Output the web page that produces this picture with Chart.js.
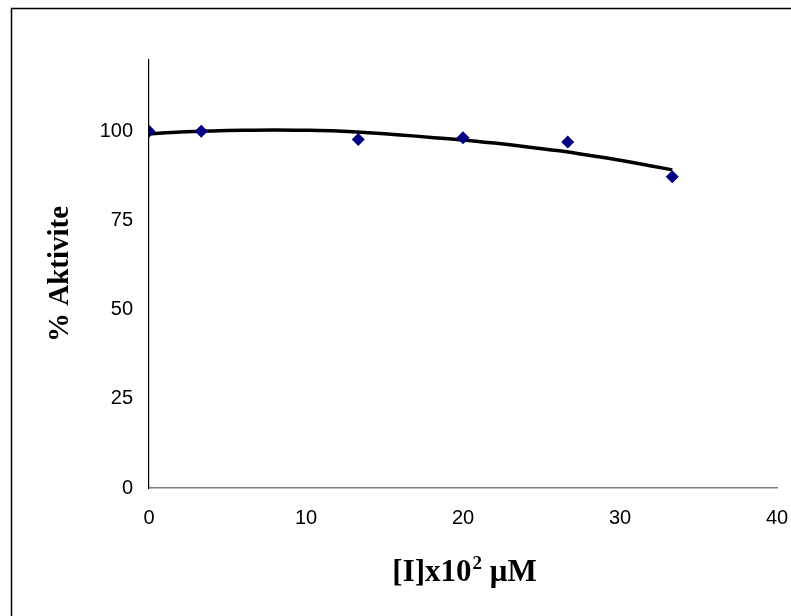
<!DOCTYPE html>
<html>
<head>
<meta charset="utf-8">
<script src="https://cdn.jsdelivr.net/npm/chart.js@4.4.1/dist/chart.umd.min.js"></script>
<style>
  body { margin: 0; background: #fff; }
  #wrap { width: 791px; height: 616px; }
</style>
</head>
<body>
<div id="wrap"><canvas id="myChart" width="791" height="616"></canvas></div>
<script>
// measured points
var concX = [0, 3.33, 13.33, 20, 26.67, 33.33];
var activity = [100, 100, 97.7, 98.2, 97.0, 87.3];

// trend curve
var trendX = [0, 2, 4, 6, 8, 10, 12, 14, 16, 18, 20, 22, 24, 26, 28, 30, 32, 33.33];
var trendY = [99.3, 99.8, 100.1, 100.3, 100.4, 100.3, 100.1, 99.6, 99.0, 98.3, 97.6, 96.7, 95.7, 94.6, 93.3, 91.9, 90.3, 89.2];

var yTicks = [0, 25, 50, 75, 100];

var pts = concX.map(function(x, i){ return {x: x, y: activity[i]}; });
var trend = trendX.map(function(x, i){ return {x: x, y: trendY[i]}; });

var frame = {
    id: 'frame',
    beforeDraw: function(chart){
        var c = chart.ctx;
        c.save();
        c.fillStyle = '#fff';
        c.fillRect(0, 0, chart.width, chart.height);
        c.strokeStyle = '#000';
        c.lineWidth = 1.5;
        c.strokeRect(11.5, 8.5, 800, 650);
        c.restore();
    },
    // x title with a real superscript 2
    afterDraw: function(chart){
        var c = chart.ctx, a = chart.chartArea;
        var big = 'bold 31px "Liberation Serif"', small = 'bold 19px "Liberation Serif"';
        var p1 = '[I]x10', p2 = '2', p3 = ' \u03BCM';
        c.save();
        c.fillStyle = '#000';
        c.textBaseline = 'alphabetic';
        c.font = big;
        var w1 = c.measureText(p1).width, w3 = c.measureText(p3).width;
        c.font = small;
        var w2 = c.measureText(p2).width;
        var x = (a.left + a.right) / 2 + 1 - (w1 + w2 + w3) / 2;
        var y = 581;
        c.font = big;
        c.fillText(p1, x, y);
        c.font = small;
        c.fillText(p2, x + w1 + 1, y - 12);
        c.font = big;
        c.fillText(p3, x + w1 + w2 + 1, y);
        c.restore();
    }
};

var ctx = document.getElementById("myChart").getContext("2d");
var myChart = new Chart(ctx, {
    type: 'scatter',
    data: {
        datasets: [{
            label: 'trend',
            data: trend,
            showLine: true,
            borderColor: '#000',
            borderWidth: 3.5,
            pointRadius: 0,
            tension: 0.3,
            order: 2
        }, {
            label: '% Aktivite',
            data: pts,
            pointStyle: 'rectRot',
            pointRadius: 6.5,
            pointBackgroundColor: '#000080',
            pointBorderColor: '#000080',
            pointBorderWidth: 0,
            order: 1
        }]
    },
    options: {
        responsive: false,
        animation: false,
        layout: { padding: { top: 60, right: 14, left: 0, bottom: 0 } },
        plugins: { legend: { display: false }, tooltip: { enabled: false } },
        scales: {
            x: {
                type: 'linear',
                min: 0, max: 40,
                ticks: { stepSize: 10, color: '#000', font: { family: 'Liberation Sans', size: 20 }, padding: 12 },
                grid: { display: false, drawTicks: true, tickLength: 6, tickColor: '#808080' },
                border: { color: '#808080', width: 1.5 },
                afterFit: function(s){
                    s.height = 616 - 488;
                    s.paddingLeft = 0;
                    s.paddingRight = 0;
                }
            },
            y: {
                type: 'linear',
                min: 0, max: 120,
                afterBuildTicks: function(s){ s.ticks = yTicks.map(function(v){ return {value: v}; }); },
                ticks: { color: '#000', font: { family: 'Liberation Sans', size: 20 }, padding: 10 },
                grid: { display: false, drawTicks: true, tickLength: 6, tickColor: '#000' },
                border: { color: '#000', width: 1.2 },
                title: {
                    display: true,
                    text: '% Aktivite',
                    color: '#000',
                    font: { family: 'Liberation Serif', size: 29, weight: 'bold' },
                    padding: { top: 43, bottom: 0 }
                },
                afterFit: function(s){
                    s.width = 149;
                    s.paddingTop = 0;
                    s.paddingBottom = 0;
                }
            }
        }
    },
    plugins: [frame]
});
</script>
</body>
</html>
